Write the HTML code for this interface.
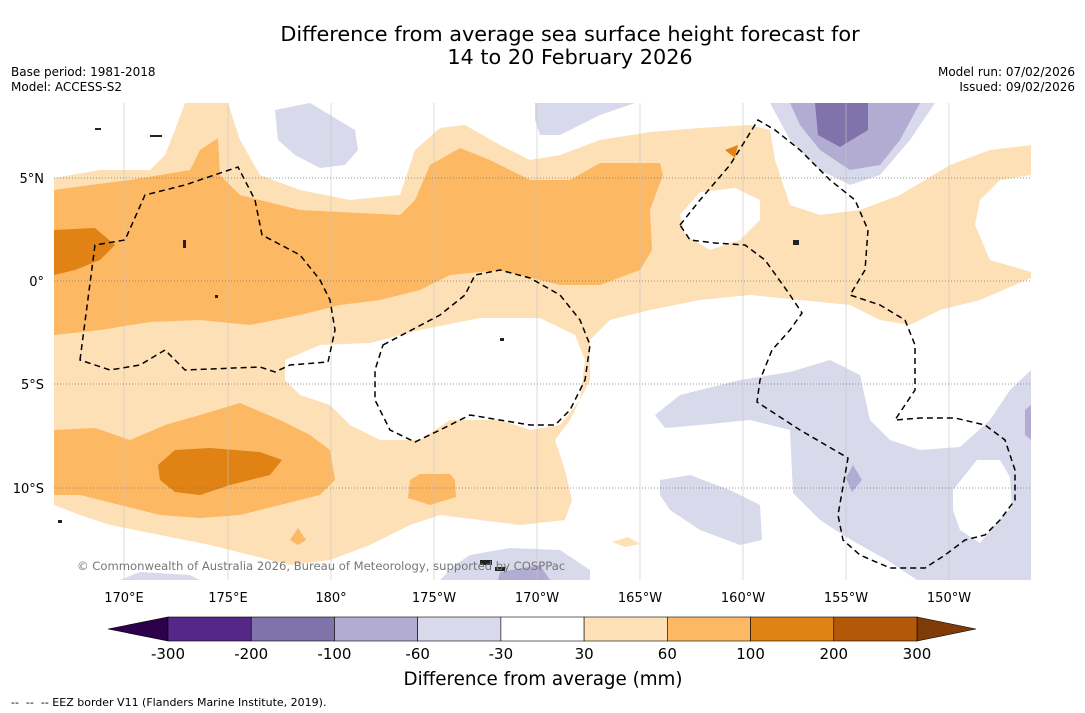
<!DOCTYPE html>
<html><head><meta charset="utf-8"><style>
body{margin:0;background:#fff;width:1085px;height:713px;overflow:hidden;font-family:"DejaVu Sans","Liberation Sans",sans-serif;}
svg{position:absolute;left:0;top:0}
</style></head><body>
<svg width="1085" height="713" viewBox="0 0 1085 713" font-family="DejaVu Sans, Liberation Sans, sans-serif">
<text x="570" y="41" font-size="20.8" text-anchor="middle">Difference from average sea surface height forecast for</text>
<text x="570" y="64" font-size="20.8" text-anchor="middle">14 to 20 February 2026</text>
<text x="11" y="76" font-size="12">Base period: 1981-2018</text>
<text x="11" y="91" font-size="12">Model: ACCESS-S2</text>
<text x="1075" y="76" font-size="12" text-anchor="end">Model run: 07/02/2026</text>
<text x="1075" y="91" font-size="12" text-anchor="end">Issued: 09/02/2026</text>
<defs><clipPath id="mc"><rect x="54" y="103" width="977" height="477"/></clipPath></defs>
<g clip-path="url(#mc)">
<rect x="54" y="103" width="977" height="477" fill="#fff"/>
<g fill="#d8daeb">
<path d="M275,110L310,103L330,115L355,130L358,150L345,165L320,168L295,155L278,140Z"/>
<path d="M535,103L635,103L600,115L580,125L560,135L540,135L535,120Z"/>
<path d="M770,103L935,103L910,140L880,175L850,185L820,170L790,140Z"/>
<path d="M655,415L680,395L740,380L790,372L830,360L860,375L870,420L890,440L920,450L960,447L990,420L1010,390L1031,370L1031,580L917,580L887,560L860,545L843,535L820,520L793,493L790,430L750,420L700,425L665,428Z"/>
<path d="M660,480L690,475L730,490L760,505L762,540L740,545L700,530L670,510L660,495Z"/>
<path d="M470,555L510,548L560,550L590,570L590,580L440,580L455,565Z"/>
<path d="M120,580L140,572L190,575L200,580Z"/>
</g>
<path d="M953,490L977,460L1000,460L1010,477L1012,507L993,527L980,543L960,530L953,510Z" fill="#fff"/>
<g fill="#b2abd2">
<path d="M790,103L920,103L900,140L880,165L850,170L820,150L800,125Z"/>
<path d="M846,478L853,465L862,480L852,492Z"/>
<path d="M500,572L540,565L550,580L498,580Z"/>
<path d="M1025,410L1031,405L1031,440L1025,435Z"/>
</g>
<path d="M815,103L868,103L868,130L840,147L818,135Z" fill="#8073ac"/>
<path fill="#fee0b6" d="M54,178L100,170L150,170L165,155L175,130L185,103L228,103L240,140L260,175L300,190L350,200L400,195L415,150L440,128L465,125L500,145L530,160L560,155L600,140L650,132L700,128L750,125L770,130L775,160L790,205L820,215L860,210L900,195L950,165L990,150L1031,145L1031,278L980,300L940,310L910,325L880,320L850,305L800,300L750,295L700,300L650,310L610,320L590,340L590,380L570,420L555,440L565,470L572,500L565,520L520,525L480,520L440,515L410,525L370,545L330,560L290,565L250,555L210,545L160,535L110,525L80,515L54,505Z M285,360L320,345L370,343L420,330L480,318L540,318L575,335L585,360L580,400L560,425L530,430L500,420L450,420L420,440L380,440L350,425L330,405L300,395L285,380Z M680,215L700,192L735,188L760,200L760,220L740,240L710,250L685,235Z M1031,175L1000,180L980,200L975,225L990,260L1031,272Z M612,542L628,537L640,544L625,547Z" fill-rule="evenodd"/>
<g fill="#fdb863">
<path d="M54,190L90,185L130,180L190,170L200,150L218,138L220,175L240,195L300,210L400,215L415,200L430,165L460,148L490,160L530,180L570,180L600,163L660,163L663,175L650,210L652,250L640,270L600,285L560,285L500,270L450,275L420,290L380,300L340,305L300,315L250,325L200,320L150,322L100,330L54,335Z"/>
<path d="M54,430L95,428L130,440L165,425L200,415L240,403L280,420L310,435L330,450L335,480L320,495L280,505L240,515L200,518L160,515L120,505L80,495L54,495Z"/>
<path d="M410,480L420,474L450,474L455,480L456,497L430,505L408,498Z"/>
<path d="M290,540L298,528L306,540L298,545Z"/>
</g>
<g fill="#e08214">
<path d="M54,230L95,228L115,245L100,260L75,270L54,275Z"/>
<path d="M158,465L175,450L210,448L260,452L282,460L270,475L230,485L200,495L175,492L160,480Z"/>
<path d="M725,150L738,145L735,158Z"/>
</g>
<g stroke="#c4c4c4" stroke-width="0.6">
<line x1="124" y1="103" x2="124" y2="580"/><line x1="228" y1="103" x2="228" y2="580"/><line x1="331" y1="103" x2="331" y2="580"/><line x1="434" y1="103" x2="434" y2="580"/><line x1="537" y1="103" x2="537" y2="580"/><line x1="640" y1="103" x2="640" y2="580"/><line x1="743" y1="103" x2="743" y2="580"/><line x1="846" y1="103" x2="846" y2="580"/><line x1="949" y1="103" x2="949" y2="580"/>
</g>
<g stroke="#777" stroke-width="0.8" stroke-dasharray="1,2">
<line x1="54" y1="178" x2="1031" y2="178"/><line x1="54" y1="281" x2="1031" y2="281"/><line x1="54" y1="384" x2="1031" y2="384"/><line x1="54" y1="488" x2="1031" y2="488"/>
</g>
<g fill="none" stroke="#000" stroke-width="1.5" stroke-dasharray="6,4">
<path d="M80,360L95,245L125,240L145,195L185,185L238,167L255,200L262,235L300,255L320,280L330,300L335,330L328,362L290,365L275,372L260,367L185,370L165,350L140,365L110,370L80,360Z"/>
<path d="M383,345L440,315L465,295L475,275L500,270L530,278L560,295L580,320L590,345L585,380L570,410L555,425L530,425L470,415L440,430L415,442L390,430L375,400L375,370Z"/>
<path d="M680,225L700,200L730,165L758,120L775,130L800,150L830,180L855,200L868,230L865,270L850,295L880,305L905,320L915,345L915,390L895,420L920,418L955,418L985,425L1005,440L1015,470L1015,500L1000,520L985,535L965,540L945,555L925,568L890,568L860,555L843,540L838,515L848,458L800,430L757,402L760,380L772,350L790,330L802,313L790,295L765,260L745,245L715,243L690,240Z"/>
</g>
<g fill="#222">
<rect x="150" y="135" width="12" height="2"/><rect x="95" y="128" width="6" height="2"/><rect x="183" y="240" width="3" height="8"/><rect x="215" y="295" width="3" height="3"/><rect x="500" y="338" width="4" height="3"/><rect x="793" y="240" width="6" height="5"/><rect x="480" y="560" width="12" height="5"/><rect x="495" y="567" width="10" height="4"/><rect x="58" y="520" width="4" height="3"/>
</g>
<text x="77" y="570" font-size="11.6" fill="#777">© Commonwealth of Australia 2026, Bureau of Meteorology, supported by COSPPac</text>
</g>
<g font-size="13" text-anchor="middle">
<text x="124" y="602">170°E</text><text x="228" y="602">175°E</text><text x="331" y="602">180°</text><text x="434" y="602">175°W</text><text x="537" y="602">170°W</text><text x="640" y="602">165°W</text><text x="743" y="602">160°W</text><text x="846" y="602">155°W</text><text x="949" y="602">150°W</text>
</g>
<g font-size="13" text-anchor="end">
<text x="44" y="183">5°N</text><text x="44" y="286">0°</text><text x="44" y="389">5°S</text><text x="44" y="493">10°S</text>
</g>
<g id="cbar"></g>
<text x="543" y="685" font-size="18.3" text-anchor="middle">Difference from average (mm)</text>
<text x="11" y="706" font-size="11" style="white-space:pre">--  --  -- EEZ border V11 (Flanders Marine Institute, 2019).</text>
</svg>
<script>
const levels=[-300,-200,-100,-60,-30,30,60,100,200,300];
const colors=["#542788","#8073ac","#b2abd2","#d8daeb","#ffffff","#fee0b6","#fdb863","#e08214","#b35806"];
const extendColors=["#2d004b","#7f3b08"];
const ns="http://www.w3.org/2000/svg";
const g=document.getElementById('cbar');
const x0=168,x1=917,yT=617,yB=641;
const w=(x1-x0)/colors.length;
function bx(i){return x0+i*w;}
const la=document.createElementNS(ns,'polygon');
la.setAttribute('points',`108,629 ${x0},${yT} ${x0},${yB}`);la.setAttribute('fill',extendColors[0]);la.setAttribute('stroke','#000');la.setAttribute('stroke-width','0.6');


g.appendChild(la);
const ra=document.createElementNS(ns,'polygon');
ra.setAttribute('points',`${x1},${yT} 976,629 ${x1},${yB}`);ra.setAttribute('fill',extendColors[1]);ra.setAttribute('stroke','#000');ra.setAttribute('stroke-width','0.6');


g.appendChild(ra);
colors.forEach((c,i)=>{const r=document.createElementNS(ns,'rect');
r.setAttribute('x',bx(i));r.setAttribute('y',yT);r.setAttribute('width',w);r.setAttribute('height',yB-yT);r.setAttribute('fill',c);r.setAttribute('stroke','#000');r.setAttribute('stroke-width','0.6');


g.appendChild(r);});
levels.forEach((v,i)=>{const t=document.createElementNS(ns,'text');
t.setAttribute('x',bx(i));t.setAttribute('y',659);t.setAttribute('font-size','15');t.setAttribute('text-anchor','middle');t.textContent=v;


g.appendChild(t);});
</script>
</body></html>
